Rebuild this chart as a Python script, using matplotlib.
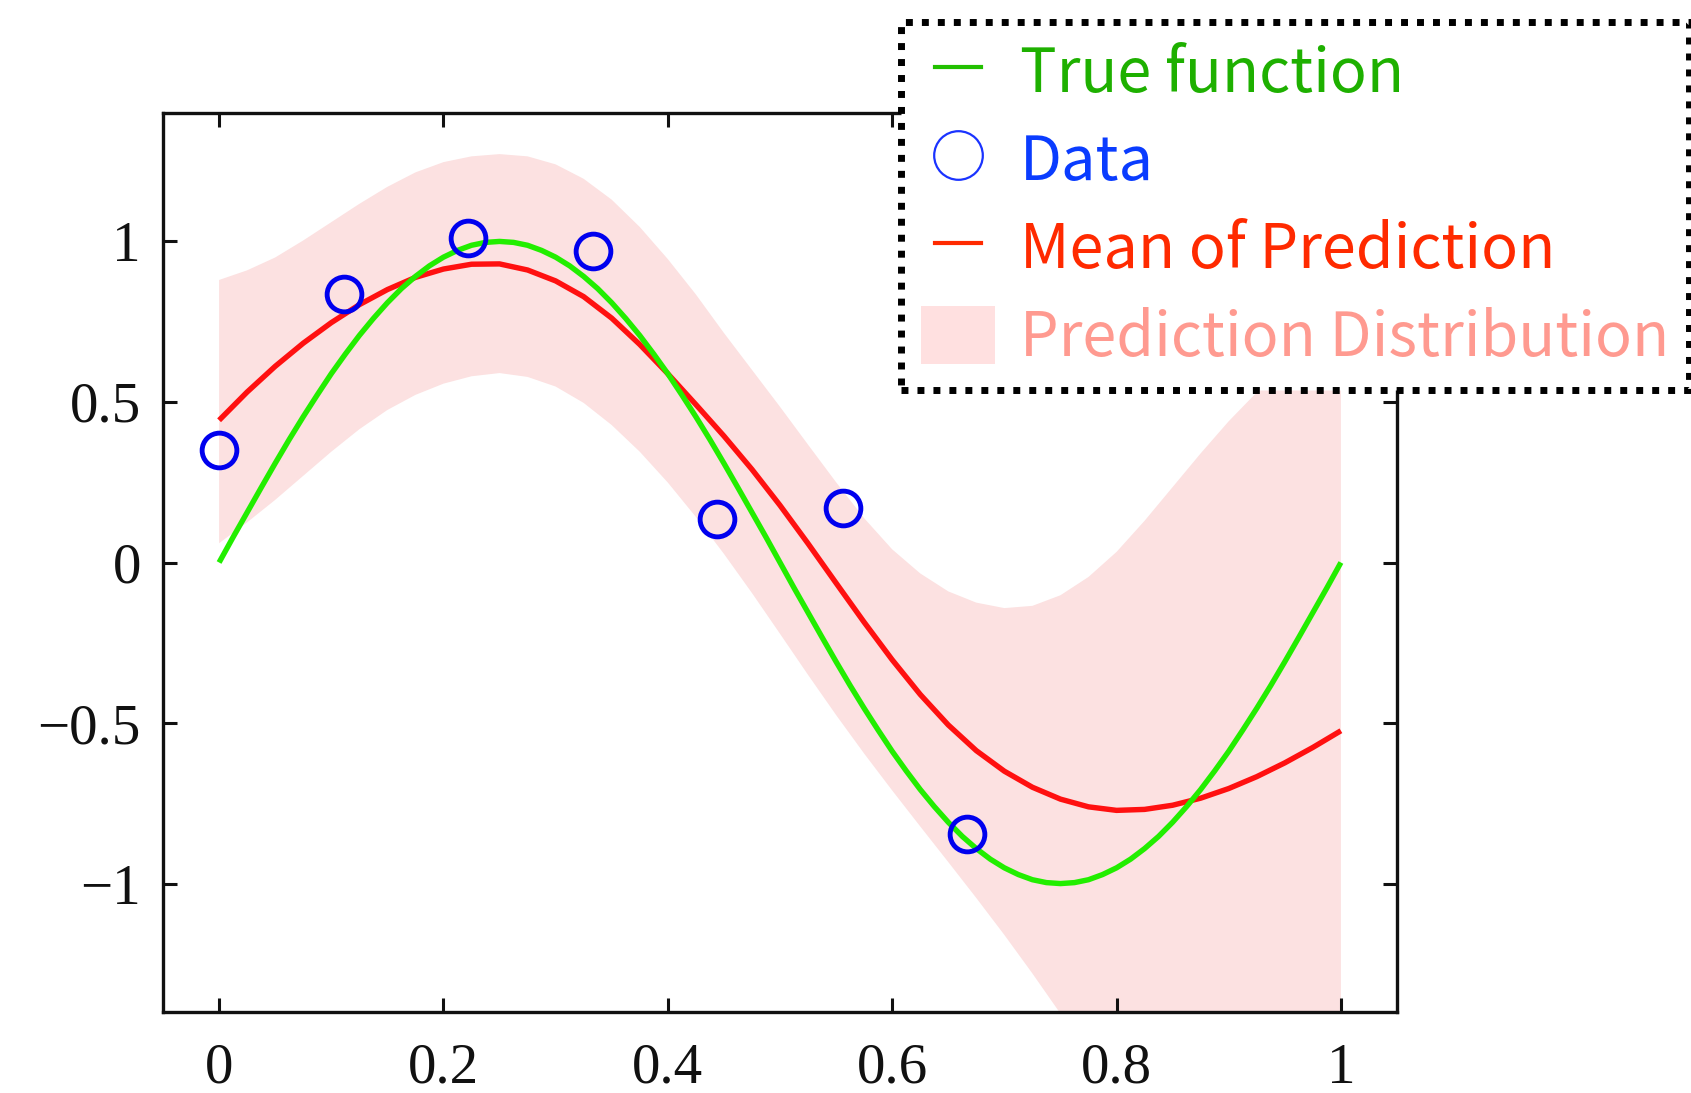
import matplotlib
matplotlib.use("Agg")
import matplotlib.pyplot as plt
from matplotlib.lines import Line2D
from matplotlib.patches import Patch
from matplotlib.legend_handler import HandlerLine2D

# Sample grid for the prediction curves (step 0.025)
grid_x = [0.000, 0.025, 0.050, 0.075, 0.100, 0.125, 0.150, 0.175, 0.200, 0.225,
          0.250, 0.275, 0.300, 0.325, 0.350, 0.375, 0.400, 0.425, 0.450, 0.475,
          0.500, 0.525, 0.550, 0.575, 0.600, 0.625, 0.650, 0.675, 0.700, 0.725,
          0.750, 0.775, 0.800, 0.825, 0.850, 0.875, 0.900, 0.925, 0.950, 0.975,
          1.000]

# Finer grid for the true function (step 0.0125)
true_x = [0.0000, 0.0125, 0.0250, 0.0375, 0.0500, 0.0625, 0.0750, 0.0875, 0.1000,
          0.1125, 0.1250, 0.1375, 0.1500, 0.1625, 0.1750, 0.1875, 0.2000, 0.2125,
          0.2250, 0.2375, 0.2500, 0.2625, 0.2750, 0.2875, 0.3000, 0.3125, 0.3250,
          0.3375, 0.3500, 0.3625, 0.3750, 0.3875, 0.4000, 0.4125, 0.4250, 0.4375,
          0.4500, 0.4625, 0.4750, 0.4875, 0.5000, 0.5125, 0.5250, 0.5375, 0.5500,
          0.5625, 0.5750, 0.5875, 0.6000, 0.6125, 0.6250, 0.6375, 0.6500, 0.6625,
          0.6750, 0.6875, 0.7000, 0.7125, 0.7250, 0.7375, 0.7500, 0.7625, 0.7750,
          0.7875, 0.8000, 0.8125, 0.8250, 0.8375, 0.8500, 0.8625, 0.8750, 0.8875,
          0.9000, 0.9125, 0.9250, 0.9375, 0.9500, 0.9625, 0.9750, 0.9875, 1.0000]
true_y = [0.000, 0.079, 0.156, 0.233, 0.309, 0.383, 0.454, 0.522, 0.588,
          0.649, 0.707, 0.760, 0.809, 0.853, 0.891, 0.924, 0.951, 0.972,
          0.988, 0.997, 1.000, 0.997, 0.988, 0.972, 0.951, 0.924, 0.891,
          0.853, 0.809, 0.760, 0.707, 0.649, 0.588, 0.522, 0.454, 0.383,
          0.309, 0.233, 0.156, 0.079, 0.000, -0.079, -0.156, -0.233, -0.309,
          -0.383, -0.454, -0.522, -0.588, -0.649, -0.707, -0.760, -0.809, -0.853,
          -0.891, -0.924, -0.951, -0.972, -0.988, -0.997, -1.000, -0.997, -0.988,
          -0.972, -0.951, -0.924, -0.891, -0.853, -0.809, -0.760, -0.707, -0.649,
          -0.588, -0.522, -0.454, -0.383, -0.309, -0.233, -0.156, -0.079, 0.000]

# Mean of prediction
mean_y = [0.443, 0.531, 0.611, 0.683, 0.747, 0.803, 0.850, 0.888, 0.914, 0.929,
          0.930, 0.911, 0.877, 0.828, 0.761, 0.679, 0.588, 0.492, 0.394, 0.290,
          0.178, 0.059, -0.064, -0.186, -0.303, -0.411, -0.506, -0.586, -0.650, -0.700,
          -0.737, -0.761, -0.772, -0.769, -0.756, -0.734, -0.704, -0.667, -0.624, -0.576,
          -0.524]

# Prediction distribution: upper and lower bounds
upper_y = [0.880, 0.910, 0.950, 1.003, 1.060, 1.117, 1.170, 1.215, 1.247, 1.265,
           1.272, 1.265, 1.240, 1.195, 1.130, 1.045, 0.945, 0.835, 0.715, 0.600,
           0.485, 0.367, 0.250, 0.138, 0.041, -0.034, -0.090, -0.125, -0.142, -0.135,
           -0.102, -0.045, 0.033, 0.130, 0.235, 0.340, 0.440, 0.530, 0.613, 0.691,
           0.765]
lower_y = [0.060, 0.125, 0.195, 0.270, 0.345, 0.415, 0.475, 0.522, 0.557, 0.580,
           0.590, 0.578, 0.548, 0.497, 0.428, 0.345, 0.249, 0.142, 0.027, -0.095,
           -0.222, -0.350, -0.475, -0.595, -0.710, -0.822, -0.933, -1.045, -1.160, -1.280,
           -1.405, -1.535, -1.665, -1.795, -1.925, -2.050, -2.170, -2.285, -2.395, -2.500,
           -2.600]

# Observed data
data_x = [0.000, 0.111, 0.222, 0.333, 0.444, 0.556, 0.667]
data_y = [0.350, 0.835, 1.010, 0.970, 0.135, 0.170, -0.846]

x_ticks = [0, 0.2, 0.4, 0.6, 0.8, 1]
x_tick_labels = ["0", "0.2", "0.4", "0.6", "0.8", "1"]
y_ticks = [-1, -0.5, 0, 0.5, 1]
y_tick_labels = ["\u22121", "\u22120.5", "0", "0.5", "1"]

labels = ["True function", "Data", "Mean of Prediction", "Prediction Distribution"]

GREEN = "#22ee00"
RED = "#ff1010"
BLUE = "#0000ee"
BAND = "#fce1e1"

fig = plt.figure(figsize=(16.91, 10.93), dpi=100)
ax = fig.add_axes([163 / 1691, 1 - 1012 / 1093, (1397 - 163) / 1691, (1012 - 113) / 1093])

ax.fill_between(grid_x, lower_y, upper_y, color=BAND, linewidth=0, zorder=1)
ax.plot(grid_x, mean_y, color=RED, linewidth=3.9, zorder=3,
        solid_capstyle="butt", solid_joinstyle="round")
ax.plot(true_x, true_y, color=GREEN, linewidth=3.9, zorder=4,
        solid_capstyle="butt", solid_joinstyle="round")
ax.plot(data_x, data_y, linestyle="none", marker="o", markersize=25,
        markerfacecolor="none", markeredgecolor=BLUE, markeredgewidth=3.5, zorder=5)

ax.set_xlim(-0.05, 1.05)
ax.set_ylim(-1.4, 1.4)
ax.set_xticks(x_ticks)
ax.set_xticklabels(x_tick_labels)
ax.set_yticks(y_ticks)
ax.set_yticklabels(y_tick_labels)

serif = ["Liberation Serif", "DejaVu Serif"]
for lab in ax.get_xticklabels() + ax.get_yticklabels():
    lab.set_fontfamily(serif)
    lab.set_fontsize(41)
    lab.set_color("#111111")

ax.tick_params(direction="in", length=10, width=2.2, top=True, right=True,
               color="#111111")
ax.tick_params(axis="x", pad=22)
ax.tick_params(axis="y", pad=16)
for sp in ax.spines.values():
    sp.set_linewidth(2.4)
    sp.set_color("#111111")

# Legend
handles = [
    Line2D([], [], color="#22c000", linewidth=3.0),
    Line2D([], [], linestyle="none", marker="o", markersize=35,
           markerfacecolor="none", markeredgecolor="#1a33ff", markeredgewidth=1.6),
    Line2D([], [], color="#ff2a00", linewidth=3.0),
    Patch(facecolor="#ffe0e0", edgecolor="none"),
]
leg = ax.legend(handles, labels, loc="upper right",
                bbox_to_anchor=(1689 / 1691, 1 - 22 / 1093),
                bbox_transform=fig.transFigure, borderaxespad=0,
                prop={"family": ["Noto Sans CJK JP", "DejaVu Sans"], "size": 44},
                handlelength=1.2, handleheight=1.07, handletextpad=0.41,
                labelspacing=0.4, borderpad=0.33, fancybox=False, framealpha=1,
                edgecolor="black",
                handler_map={handles[0]: HandlerLine2D(numpoints=2, marker_pad=0.22),
                             handles[2]: HandlerLine2D(numpoints=2, marker_pad=0.22)})
frame = leg.get_frame()
frame.set_linewidth(5)
frame.set_linestyle((0, (1, 1.3)))
frame.set_facecolor("white")
for txt, col in zip(leg.get_texts(), ["#1eb000", "#0a3cff", "#ff2a00", "#ff9a90"]):
    txt.set_color(col)

fig.savefig("out.png", dpi=100)
